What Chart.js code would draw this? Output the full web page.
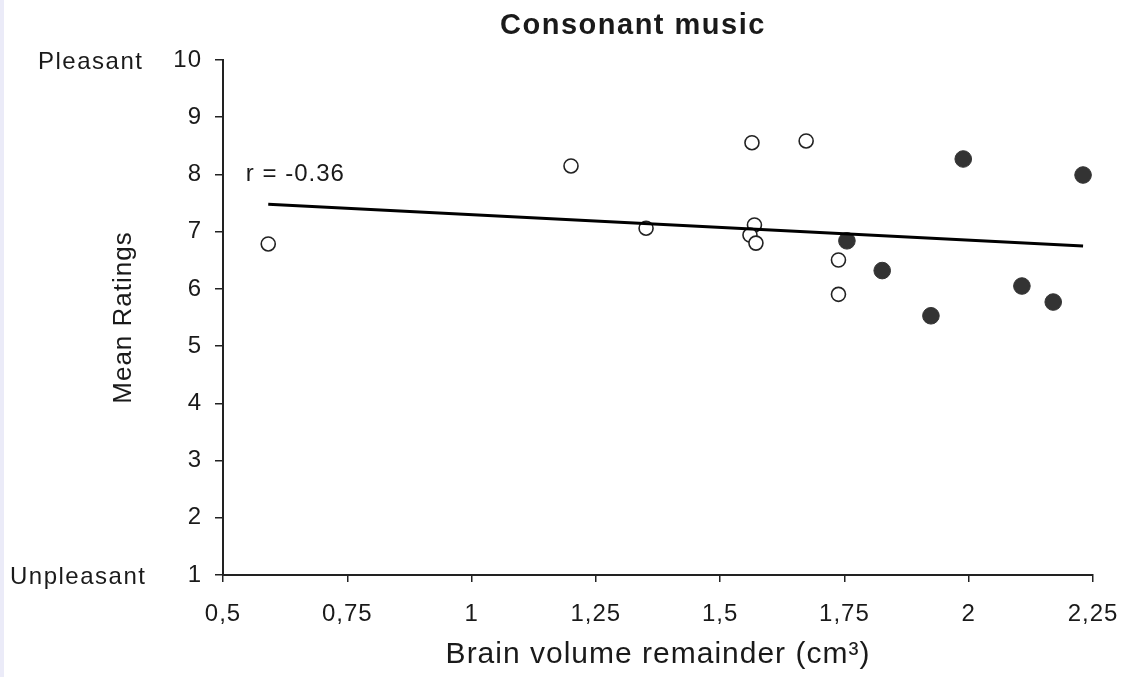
<!DOCTYPE html>
<html lang="en">
<head>
    <meta charset="UTF-8">
    <title>Consonant music</title>
    <script src="https://cdn.jsdelivr.net/npm/chart.js"></script>
    <style>
        body { margin: 0; background: #fff; }
        #wrap { position: relative; width: 1126px; height: 677px; }
        #edge { position: absolute; left: 0; top: 0; width: 4px; height: 677px; background: #ebebf8; }
    </style>
</head>
<body>
    <div id="wrap">
        <canvas id="scatterChart" width="1126" height="677"></canvas>
        <div id="edge"></div>
    </div>

    <script>
        // open circles
        const openX = [0.591, 1.200, 1.351, 1.564, 1.673, 1.569, 1.560, 1.572, 1.738, 1.738];
        const openY = [6.785, 8.148, 7.06, 8.555, 8.585, 7.117, 6.94, 6.80, 6.505, 5.905];
        // filled circles
        const filledX = [1.755, 1.826, 1.924, 1.989, 2.107, 2.170, 2.230];
        const filledY = [6.84, 6.32, 5.53, 8.27, 6.05, 5.77, 7.99];
        // fitted line end points
        const fitX = [0.591, 2.230];
        const fitY = [7.48, 6.75];

        const xTickLabels = ['0,5', '0,75', '1', '1,25', '1,5', '1,75', '2', '2,25'];
        const yTickLabels = ['1', '2', '3', '4', '5', '6', '7', '8', '9', '10'];
        const corrText = 'r = -0.36';

        const toPoints = (xs, ys) => xs.map((x, i) => ({ x: x, y: ys[i] }));

        const FONT = "'Liberation Sans', Arial, sans-serif";
        const INK = '#1a1a1a';

        // wider letter spacing for all canvas text
        const spacingPlugin = {
            id: 'spacing',
            beforeLayout(chart) { chart.ctx.letterSpacing = '1px'; },
            beforeDraw(chart) { chart.ctx.letterSpacing = '1px'; }
        };

        // title, end labels of the rating scale and the r value
        const labelsPlugin = {
            id: 'extraLabels',
            afterDraw(chart) {
                const ctx = chart.ctx;
                const xs = chart.scales.x, ys = chart.scales.y;
                ctx.save();
                ctx.fillStyle = INK;
                ctx.textBaseline = 'middle';

                ctx.letterSpacing = '1.5px';
                ctx.font = 'bold 29px ' + FONT;
                ctx.textAlign = 'center';
                ctx.fillText('Consonant music', 633, 26);

                ctx.font = '24px ' + FONT;
                ctx.textAlign = 'left';
                ctx.fillText('Pleasant', 38, ys.getPixelForValue(10) + 2);
                ctx.fillText('Unpleasant', 10, ys.getPixelForValue(1) + 2);
                ctx.letterSpacing = '1px';
                ctx.fillText(corrText, xs.getPixelForValue(0.546), ys.getPixelForValue(8));
                ctx.restore();
            }
        };

        const ctx = document.getElementById('scatterChart').getContext('2d');
        const chart = new Chart(ctx, {
            type: 'scatter',
            data: {
                datasets: [
                    {
                        type: 'line',
                        label: 'fit',
                        data: toPoints(fitX, fitY),
                        borderColor: '#000',
                        borderWidth: 3,
                        pointRadius: 0,
                        fill: false,
                        order: 0
                    },
                    {
                        label: 'open',
                        data: toPoints(openX, openY),
                        pointRadius: 7,
                        pointBorderWidth: 1.6,
                        pointBackgroundColor: '#fff',
                        pointBorderColor: '#222',
                        order: 1
                    },
                    {
                        label: 'filled',
                        data: toPoints(filledX, filledY),
                        pointRadius: 8.3,
                        pointBorderWidth: 1,
                        pointBackgroundColor: '#333',
                        pointBorderColor: '#333',
                        order: 2
                    }
                ]
            },
            options: {
                responsive: false,
                animation: false,
                layout: { padding: { left: 0, right: 33, top: 60, bottom: 0 } },
                plugins: {
                    legend: { display: false },
                    tooltip: { enabled: false }
                },
                scales: {
                    x: {
                        type: 'linear',
                        min: 0.5,
                        max: 2.25,
                        afterFit(scale) {
                            scale.height = 102;
                            scale.paddingLeft = 0;
                            scale.paddingRight = 0;
                        },
                        afterBuildTicks(scale) {
                            scale.ticks = xTickLabels.map((t, i) => ({ value: 0.5 + i * 0.25 }));
                        },
                        border: { display: true, color: '#222', width: 2 },
                        grid: { drawOnChartArea: false, drawTicks: true, tickLength: 7, color: '#222', lineWidth: 1.5 },
                        ticks: {
                            color: INK,
                            padding: 18,
                            maxRotation: 0,
                            autoSkip: false,
                            font: { family: FONT, size: 24 },
                            callback: (v, i) => xTickLabels[i]
                        },
                        title: {
                            display: true,
                            text: 'Brain volume remainder (cm³)',
                            color: INK,
                            font: { family: FONT, size: 30 },
                            padding: { top: 0, bottom: 4 }
                        }
                    },
                    y: {
                        min: 1,
                        max: 10,
                        afterFit(scale) {
                            scale.width = 223;
                            scale.paddingTop = 0;
                            scale.paddingBottom = 0;
                        },
                        afterBuildTicks(scale) {
                            scale.ticks = yTickLabels.map(t => ({ value: Number(t) }));
                        },
                        border: { display: true, color: '#222', width: 2 },
                        grid: { drawOnChartArea: false, drawTicks: true, tickLength: 8, color: '#222', lineWidth: 1.5 },
                        ticks: {
                            color: INK,
                            padding: 13,
                            autoSkip: false,
                            font: { family: FONT, size: 24 },
                            callback: (v, i) => yTickLabels[i]
                        },
                        title: {
                            display: true,
                            text: 'Mean Ratings',
                            color: INK,
                            font: { family: FONT, size: 26 },
                            padding: { top: 108, bottom: 0 }
                        }
                    }
                }
            },
            plugins: [spacingPlugin, labelsPlugin]
        });
    </script>
</body>
</html>
